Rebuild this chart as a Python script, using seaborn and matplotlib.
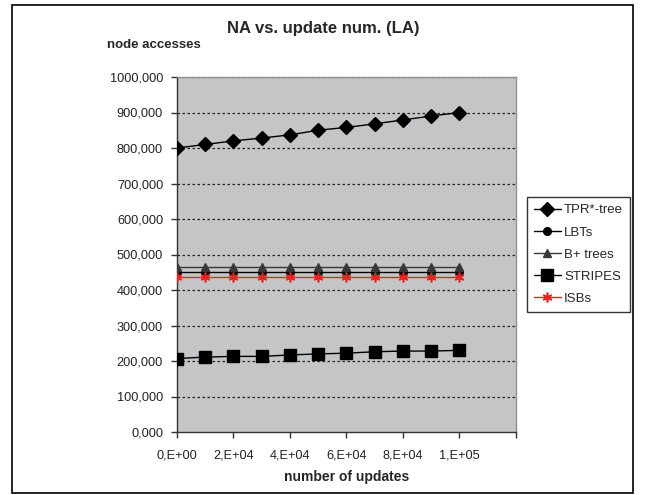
import matplotlib
matplotlib.use("Agg")
import matplotlib.pyplot as plt
import seaborn as sns
import pandas as pd
from matplotlib.patches import Rectangle

updates = [0, 10000, 20000, 30000, 40000, 50000, 60000, 70000, 80000, 90000, 100000]
tpr_tree = [800000, 810000, 820000, 828000, 837000, 850000, 858000, 868000, 879000, 890000, 900000]
lbts = [450000] * 11
bplus_trees = [466000] * 11
stripes = [207000, 211000, 213000, 213000, 217000, 220000, 222000, 226000, 228000, 228000, 230000]
isbs = [438000] * 11

x_ticks = [0, 20000, 40000, 60000, 80000, 100000, 120000]
x_tick_labels = ["0,E+00", "2,E+04", "4,E+04", "6,E+04", "8,E+04", "1,E+05", ""]
y_ticks = [0, 100000, 200000, 300000, 400000, 500000, 600000, 700000, 800000, 900000, 1000000]
y_tick_labels = ["0,000", "100,000", "200,000", "300,000", "400,000", "500,000",
                 "600,000", "700,000", "800,000", "900,000", "1000,000"]

series = {
    "TPR*-tree": tpr_tree,
    "LBTs": lbts,
    "B+ trees": bplus_trees,
    "STRIPES": stripes,
    "ISBs": isbs,
}
styles = {
    "TPR*-tree": dict(color="black", marker="D", markersize=6.8, lw=1.0),
    "LBTs": dict(color="black", marker="o", markersize=5.5, lw=1.0),
    "B+ trees": dict(color="#383838", marker="^", markersize=6, lw=1.0),
    "STRIPES": dict(color="black", marker="s", markersize=8.2, lw=1.0),
    "ISBs": dict(color="#ee2020", marker=(6, 2, 0), markersize=7, lw=1.0),
}

df = pd.DataFrame(
    [(name, x, y) for name, vals in series.items() for x, y in zip(updates, vals)],
    columns=["series", "updates", "value"],
)

sns.set_theme(style="white")
plt.rcParams["font.family"] = ["Liberation Sans", "DejaVu Sans"]

fig = plt.figure(figsize=(6.45, 4.95), dpi=100)
ax = fig.add_axes([177 / 645, 1 - 432 / 495, (515.7 - 177) / 645, (432 - 77) / 495])
ax.set_facecolor("#c4c5c7")

for name in series:
    st = styles[name]
    sub = df[df["series"] == name]
    mec = st["color"]
    sns.lineplot(data=sub, x="updates", y="value", ax=ax, color=st["color"],
                 marker=st["marker"], markersize=st["markersize"], linewidth=st["lw"],
                 markeredgecolor=mec, markeredgewidth=1.0 if name != "ISBs" else 1.2,
                 label=name, zorder=3)

ax.set_xlim(0, 120000)
ax.set_ylim(0, 1000000)
ax.set_xticks(x_ticks)
ax.set_xticklabels(x_tick_labels, fontsize=9.2, color="#222222")
ax.set_yticks(y_ticks)
ax.set_yticklabels(y_tick_labels, fontsize=9.2, color="#222222")
ax.tick_params(axis="both", direction="out", length=4, width=1, color="#333333",
               bottom=True, left=True)
ax.tick_params(axis="y", pad=6)
ax.tick_params(axis="x", pad=8.5)
ax.grid(False)
for yv in y_ticks[1:]:
    ax.axhline(yv, color="#222222", linestyle=(0, (2, 2)), linewidth=0.9, zorder=1)

for side in ["top", "right"]:
    ax.spines[side].set_color("#909090")
    ax.spines[side].set_linewidth(1.0)
for side in ["left", "bottom"]:
    ax.spines[side].set_color("#333333")
    ax.spines[side].set_linewidth(1.0)

ax.set_xlabel("number of updates", fontsize=10, fontweight="bold", labelpad=6.5)
ax.set_ylabel("")
fig.text(107 / 645, 1 - 45 / 495, "node accesses", fontsize=9.5, fontweight="bold",
         ha="left", va="center")
fig.text(323 / 645, 1 - 29 / 495, "NA vs. update num. (LA)", fontsize=12,
         fontweight="bold", ha="center", va="center")

leg = ax.legend(loc="upper left", bbox_to_anchor=(527 / 645, 1 - 197 / 495),
                bbox_transform=fig.transFigure, frameon=True, fancybox=False,
                edgecolor="black", fontsize=9.5, handlelength=2.0, handletextpad=0.25,
                borderpad=0.55, labelspacing=0.75, borderaxespad=0)
leg.get_frame().set_linewidth(1.0)

fig.patches.append(Rectangle((12 / 645, 1 - 493 / 495), (633 - 12) / 645, (493 - 5) / 495,
                             transform=fig.transFigure, fill=False, edgecolor="black",
                             linewidth=1.2))

fig.savefig("out.png", dpi=100, facecolor="white")
